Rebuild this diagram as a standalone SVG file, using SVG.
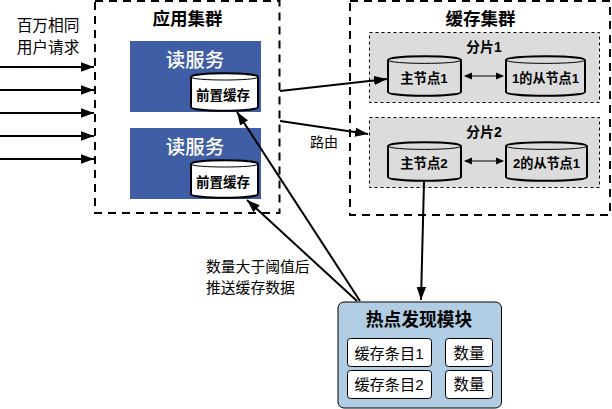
<svg xmlns="http://www.w3.org/2000/svg" width="612" height="409" viewBox="0 0 612 409">
<style>
text{font-family:"Liberation Sans","Noto Sans CJK SC",sans-serif;text-anchor:middle;fill:#000}
.cl{fill:#fff;stroke:#000;stroke-width:2;stroke-dasharray:8 6}
.sh{fill:#dcdcdc;stroke:#000;stroke-width:1;stroke-dasharray:3 3}
.sv{fill:#3f5ea6}
.db{fill:#fff;stroke:#000;stroke-width:2}
.dbg{fill:#dcdcdc;stroke:#000;stroke-width:2}
.ln{fill:none;stroke:#000;stroke-width:2}
.dbl{fill:none;stroke:#000;stroke-width:1}
.b{font-weight:bold}
.in{fill:#fff;stroke:#000;stroke-width:1}
</style>
<defs>
<marker id="a" markerUnits="userSpaceOnUse" markerWidth="14" markerHeight="10" refX="13" refY="5" orient="auto"><path d="M0 0.300L13 5L0 9.700Z" fill="#000"/></marker>
<marker id="s" markerUnits="userSpaceOnUse" markerWidth="8" markerHeight="8" refX="7" refY="4" orient="auto-start-reverse"><path d="M0 0.500L8 4L0 7.500Z" fill="#000"/></marker>
</defs>
<g id="app-cluster"><rect class="cl" x="95" y="1" width="184.500" height="212"/><text class="b" x="187.500" y="25" font-size="17.500">应用集群</text></g>
<g id="cache-cluster"><rect class="cl" x="350" y="1" width="260" height="214"/><text class="b" x="480.500" y="25" font-size="17.500">缓存集群</text></g>
<g id="users"><text x="48" y="31" font-size="15.700">百万相同</text><text x="48" y="53" font-size="15.700">用户请求</text></g>
<g id="read-service-1"><rect class="sv" x="130" y="41" width="131" height="71"/><text x="195" y="67" font-size="19.500" font-weight="500" style="fill:#fff">读服务</text>
<path class="db" d="M191 77C191 72 258 72 258 77V107C258 112 191 112 191 107Z"/><path class="dbl" d="M191 77C191 81 258 81 258 77"/><text class="b" x="223" y="100" font-size="13.500">前置缓存</text></g>
<g id="read-service-2"><rect class="sv" x="130" y="128" width="131" height="71"/><text x="195" y="154" font-size="19.500" font-weight="500" style="fill:#fff">读服务</text>
<path class="db" d="M191 164C191 159 258 159 258 164V194C258 199 191 199 191 194Z"/><path class="dbl" d="M191 164C191 168 258 168 258 164"/><text class="b" x="223" y="187" font-size="13.500">前置缓存</text></g>
<g id="shard-1"><rect class="sh" x="369.500" y="32.500" width="230" height="70"/><text class="b" x="484" y="52" font-size="14">分片1</text>
<path class="dbg" d="M388 60C388 55 461 55 461 60V92C461 97 388 97 388 92Z"/><path class="dbl" d="M388 60C388 64.500 461 64.500 461 60"/><text class="b" x="424" y="83" font-size="13.400">主节点1</text>
<path class="dbg" d="M506 60C506 55 585 55 585 60V92C585 97 506 97 506 92Z"/><path class="dbl" d="M506 60C506 64.500 585 64.500 585 60"/><text class="b" x="545.500" y="83" font-size="13.100">1的从节点1</text></g>
<g id="shard-2"><rect class="sh" x="369.500" y="117.500" width="230" height="70"/><text class="b" x="484" y="137" font-size="14">分片2</text>
<path class="dbg" d="M388 146C388 141 461 141 461 146V177C461 182 388 182 388 177Z"/><path class="dbl" d="M388 146C388 150.500 461 150.500 461 146"/><text class="b" x="424" y="168" font-size="13.400">主节点2</text>
<path class="dbg" d="M506 146C506 141 587 141 587 146V177C587 182 506 182 506 177Z"/><path class="dbl" d="M506 146C506 150.500 587 150.500 587 146"/><text class="b" x="546.500" y="168" font-size="13.100">2的从节点1</text></g>
<g id="hot-module"><rect x="338" y="302" width="163.500" height="106" rx="6" fill="#b1cde3" stroke="#000" stroke-width="1"/><text class="b" x="419" y="326" font-size="17.800">热点发现模块</text>
<rect class="in" x="347.500" y="338.500" width="84" height="28" rx="3"/><text x="389" y="359" font-size="15.200">缓存条目1</text>
<rect class="in" x="347.500" y="370.500" width="84" height="28" rx="3"/><text x="389" y="390" font-size="15.200">缓存条目2</text>
<rect class="in" x="445.500" y="338.500" width="47" height="28" rx="3"/><text x="469" y="359" font-size="15.500">数量</text>
<rect class="in" x="445.500" y="370.500" width="47" height="28" rx="3"/><text x="469" y="390" font-size="15.500">数量</text></g>
<g id="connectors">
<path class="ln" marker-end="url(#a)" d="M0 67H94"/>
<path class="ln" marker-end="url(#a)" d="M0 90H94"/>
<path class="ln" marker-end="url(#a)" d="M0 113H94"/>
<path class="ln" marker-end="url(#a)" d="M0 136H94"/>
<path class="ln" marker-end="url(#a)" d="M0 159H94"/>
<path class="ln" marker-end="url(#a)" d="M280 91L387 79"/>
<path class="ln" marker-end="url(#a)" d="M280 121L368 134"/>
<path class="dbl" marker-start="url(#s)" marker-end="url(#s)" d="M465 76H503"/>
<path class="dbl" marker-start="url(#s)" marker-end="url(#s)" d="M465 161H503"/>
<path class="ln" marker-end="url(#a)" d="M424 182L421 300"/>
<path class="ln" marker-end="url(#a)" d="M360 301L237 112"/>
<path class="ln" marker-end="url(#a)" d="M357 301L247 200"/>
</g>
<g id="labels"><text x="324" y="147" font-size="14">路由</text>
<text x="206" y="272" font-size="14.800" style="text-anchor:start">数量大于阈值后</text><text x="206" y="293" font-size="14.800" style="text-anchor:start">推送缓存数据</text></g>
</svg>
